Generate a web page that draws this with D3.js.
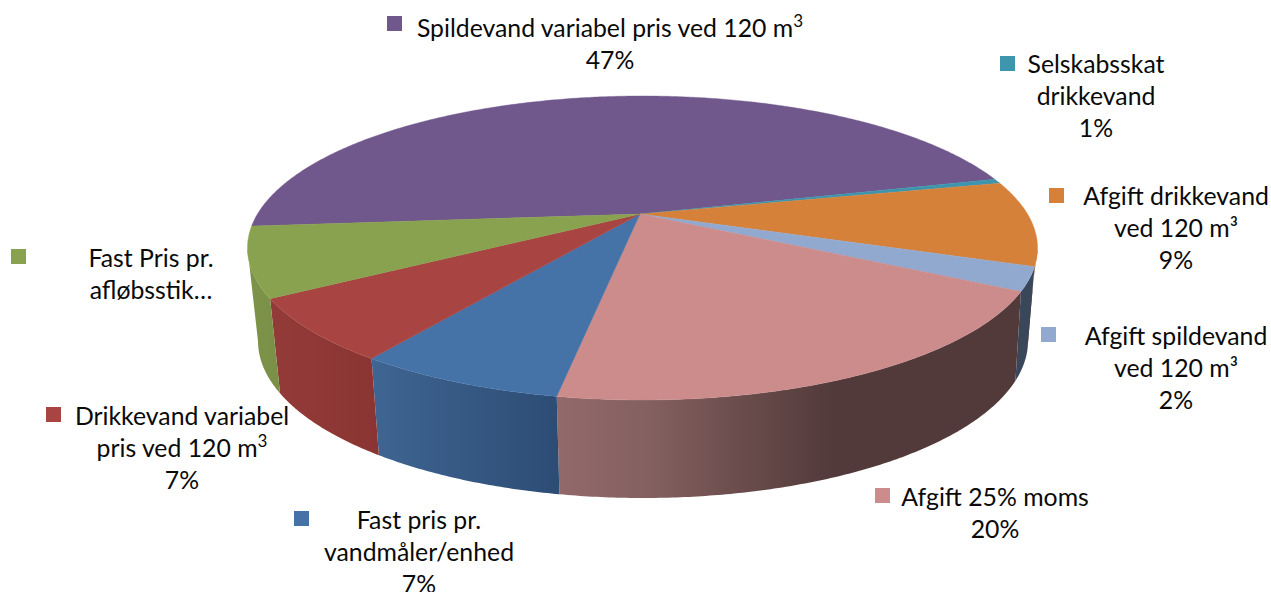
<!DOCTYPE html>
<html>
<head>
<meta charset="utf-8">
<script src="https://cdn.jsdelivr.net/npm/d3@7"></script>
<style>
	html, body { margin: 0; padding: 0; background: #fff; overflow: hidden; }
	text { font-family: Lato, "Open Sans", sans-serif; font-size: 24.8px; fill: #0a0a0a; text-anchor: middle; }
</style>
</head>
<body>
<svg id="chart" width="1271" height="592"></svg>
<script>
// slices clockwise, starting at the purple one
const categories = [
	"Spildevand variabel pris ved 120 m3",
	"Selskabsskat drikkevand",
	"Afgift drikkevand ved 120 m³",
	"Afgift spildevand ved 120 m³",
	"Afgift 25% moms",
	"Fast pris pr. vandmåler/enhed",
	"Drikkevand variabel pris ved 120 m3",
	"Fast Pris pr. afløbsstik…",
];
const sliceValues = [47.4, 0.5, 9.1, 2.5, 19.9, 7.0, 6.6, 7.4];
const shownPercent = ["47%", "1%", "9%", "2%", "20%", "7%", "7%", ""];
const labelLines = [
	["Spildevand variabel pris ved 120 m^3"],
	["Selskabsskat", "drikkevand"],
	["Afgift drikkevand", "ved 120 m³"],
	["Afgift spildevand", "ved 120 m³"],
	["Afgift 25% moms"],
	["Fast pris pr.", "vandmåler/enhed"],
	["Drikkevand variabel", "pris ved 120 m^3"],
	["Fast Pris pr.", "afløbsstik…"],
];
const topColors = ["#70578c", "#3d96ae", "#d6813a", "#92a9cf", "#cc8c8c", "#4572a7", "#a84542", "#89a24f"];

// wall shading, colour stops left to right
const wallColors = [
	["#70578c", "#70578c"],
	["#7a4f20", "#7a4f20"],
	["#7a4f20", "#7a4f20"],
	["#3a4659", "#3a4659"],
	["#93696a", "#846060", "#6a4c4c", "#523a3a", "#523a3a", "#523a3a"],
	["#3f6592", "#2c4c74"],
	["#933b38", "#8a3533"],
	["#7d9349", "#7b9047"],
];

// legend key and text centre for each label
const labelLayout = [
	{ keyX: 387, keyY: 16, cx: 610, y: 37 },
	{ keyX: 1000, keyY: 56, cx: 1096, y: 73 },
	{ keyX: 1049, keyY: 188, cx: 1176, y: 205 },
	{ keyX: 1041, keyY: 327, cx: 1176, y: 345 },
	{ keyX: 875, keyY: 488, cx: 995, y: 506 },
	{ keyX: 294, keyY: 511, cx: 419, y: 529 },
	{ keyX: 46, keyY: 407, cx: 182, y: 425 },
	{ keyX: 11, keyY: 249, cx: 151, y: 267 },
];

const svg = d3.select("#chart");
const defs = svg.append("defs");
const deg = Math.PI / 180;

// perspective disc: apex is where the slices meet, the rim sits a bit to the right of it
const apex = { x: 640, y: 214 };
const rimX = 642.5;
const persp = 0.2237;
const discA = 385;
const discB = 144.4;

function topPoint(a) {
	const x = Math.sin(a);
	const y = -Math.cos(a);
	const w = 1 - persp * y;
	return [rimX + (discA * x) / w, apex.y + (discB * y) / w];
}

// top and bottom rims as plain ellipses
const topEllipse = { cx: 642.5, cy: 248, rx: 395, ry: 152 };
const bottomEllipse = { cx: 643, cy: 341, rx: 385, ry: 157 };
// the right side corners slide a little along the bottom rim
const rimShift = d3.scaleLinear().domain([-180, -10, 6.4, 16, 60, 180]).range([-180, -10, 0, 14, 60, 180]);

function bottomPoint(a) {
	const p = topPoint(a);
	const t0 = Math.atan2((p[1] - topEllipse.cy) / topEllipse.ry, (p[0] - topEllipse.cx) / topEllipse.rx);
	const t = rimShift(t0 / deg) * deg;
	return [bottomEllipse.cx + bottomEllipse.rx * Math.cos(t), bottomEllipse.cy + bottomEllipse.ry * Math.sin(t)];
}

const pie = d3
	.pie()
	.sort(null)
	.startAngle(265.3 * deg)
	.endAngle((265.3 + 360) * deg);
const arcs = pie(sliceValues);
const line = d3.line();

function rim(a0, a1, fn) {
	const n = Math.max(2, Math.ceil(Math.abs(a1 - a0) / (0.5 * deg)));
	return d3.range(n + 1).map((i) => fn(a0 + ((a1 - a0) * i) / n));
}

// walls first, only the near part of the disc shows them, edge to edge
const nearFrom = (360 + 103) * deg;
const nearTo = (360 + 257) * deg;
const wallG = svg.append("g").classed("walls", true);

arcs.forEach((d, i) => {
	const a0 = Math.max(d.startAngle, nearFrom);
	const a1 = Math.min(d.endAngle, nearTo);
	if (a1 <= a0) return;
	const top = rim(a0, a1, topPoint);
	const bot = rim(a0, a1, bottomPoint).reverse();
	const xs = top.concat(bot).map((p) => p[0]);

	const stops = wallColors[i];
	const grad = defs
		.append("linearGradient")
		.attr("id", `wall-${i}`)
		.attr("gradientUnits", "userSpaceOnUse")
		.attr("x1", d3.min(xs))
		.attr("x2", d3.max(xs))
		.attr("y1", 0)
		.attr("y2", 0);
	stops.forEach((c, j) => {
		grad.append("stop")
			.attr("offset", j / (stops.length - 1))
			.attr("stop-color", c);
	});

	wallG.append("path")
		.attr("d", line(top.concat(bot)) + "Z")
		.attr("fill", `url(#wall-${i})`);
});

// top face
svg.append("g")
	.classed("slices", true)
	.selectAll("path")
	.data(arcs)
	.join("path")
	.attr("d", (d) => {
		const pts = rim(d.startAngle, d.endAngle, topPoint);
		return line([[apex.x, apex.y]].concat(pts)) + "Z";
	})
	.attr("fill", (d, i) => topColors[i])
	.attr("stroke", (d, i) => topColors[i])
	.attr("stroke-width", 0.4);

// labels
const labels = svg
	.append("g")
	.classed("labels", true)
	.selectAll("g")
	.data(categories)
	.join("g");

labels
	.append("rect")
	.attr("x", (d, i) => labelLayout[i].keyX)
	.attr("y", (d, i) => labelLayout[i].keyY)
	.attr("width", 15)
	.attr("height", 15)
	.attr("fill", (d, i) => topColors[i]);

labels.each(function (d, i) {
	const g = d3.select(this);
	const lay = labelLayout[i];
	const lines = labelLines[i].concat(shownPercent[i] ? [shownPercent[i]] : []);
	lines.forEach((txt, j) => {
		const t = g
			.append("text")
			.attr("x", lay.cx)
			.attr("y", lay.y + j * 32);
		const parts = txt.split("^");
		t.append("tspan").text(parts[0]);
		if (parts[1]) {
			t.append("tspan")
				.attr("dy", -10)
				.style("font-size", "17px")
				.text(parts[1]);
		}
	});
});
</script>
</body>
</html>
